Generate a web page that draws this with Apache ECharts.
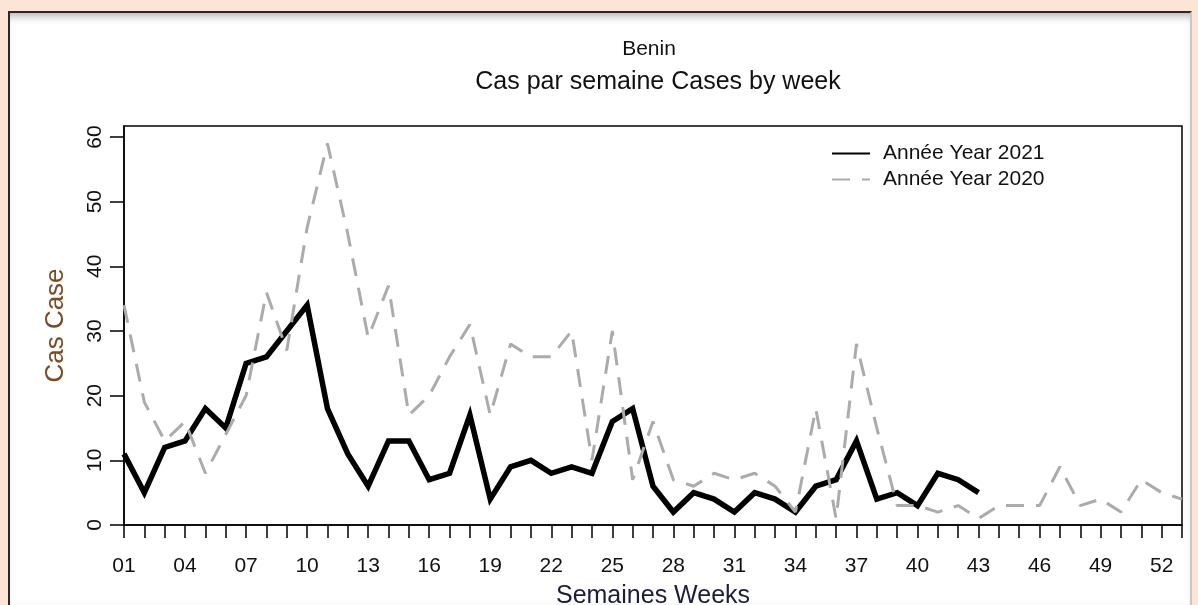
<!DOCTYPE html>
<html><head><meta charset="utf-8">
<script src="https://cdn.jsdelivr.net/npm/echarts@6/dist/echarts.min.js"></script>
<style>
html,body{margin:0;padding:0;background:#fce4d6;overflow:hidden;width:1198px;height:605px}
#frame{position:absolute;left:8px;top:11px;width:1180px;height:600px;background:#fff;
 border-top:2px solid #2a2a2a;border-left:2px solid #2a2a2a;border-right:2px solid #c8c8c8;
 box-shadow: inset 0 9px 8px -6px rgba(0,0,0,0.30), inset 0 -9px 8px -6px rgba(0,0,0,0.22);}
#c{position:absolute;left:0;top:0;width:1198px;height:605px}
</style>
</head><body>
<div id="frame"></div>
<div id="c"></div>
<script>
const weeks = ['01','02','03','04','05','06','07','08','09','10','11','12','13','14','15','16','17','18','19','20',
  '21','22','23','24','25','26','27','28','29','30','31','32','33','34','35','36','37','38','39','40',
  '41','42','43','44','45','46','47','48','49','50','51','52','53'];
const cases2021 = [11,5,12,13,18,15,25,26,30,34,18,11,6,13,13,7,8,17,4,9,10,8,9,8,16,18,6,2,5,4,2,5,4,2,6,7,13,4,5,3,8,7,5];
const cases2020 = [34,19,13,16,8,14,20,36,27,46,59,45,29,37,17,20,26,31,17,28,26,26,30,10,30,7,16,7,6,8,7,8,6,2,18,1,28,15,3,3,2,3,1,3,3,3,9,3,4,2,7,5,4];
const yTicks = [0,10,20,30,40,50,60];
const seriesNames = ['Année Year 2021','Année Year 2020'];
const titleText = 'Benin';
const subtitleText = 'Cas par semaine Cases by week';
const xName = 'Semaines Weeks';
const yName = 'Cas Case';

const FONT = 'Liberation Sans, Arial, sans-serif';
const chart = echarts.init(document.getElementById('c'), null, {renderer:'canvas'});
chart.setOption({
  backgroundColor: 'transparent',
  animation: false,
  title: [
    {text: titleText, left: 644, top: 34, textAlign: 'center',
     textStyle: {fontFamily: FONT, fontSize: 21, fontWeight: 'normal', color: '#111'}},
    {text: subtitleText, left: 653, top: 65, textAlign: 'center',
     textStyle: {fontFamily: FONT, fontSize: 25, fontWeight: 'normal', color: '#111'}}
  ],
  legend: {
    orient: 'vertical', left: 826, top: 138, itemWidth: 38, itemHeight: 14, itemGap: 5,
    itemStyle: {opacity: 0},
    textStyle: {fontFamily: FONT, fontSize: 21, lineHeight: 21, color: '#111', padding: [0,0,0,8]},
    data: seriesNames
  },
  grid: {left: 124, right: 16, top: 126, bottom: 80, show: true, borderColor: '#000', borderWidth: 1.5,
    backgroundColor: 'transparent', outerBoundsMode: 'none', containLabel: false},
  xAxis: {
    type: 'category', data: weeks, boundaryGap: false,
    name: xName, nameLocation: 'middle', nameGap: 59,
    nameTextStyle: {fontFamily: FONT, fontSize: 25, color: '#1c1c3c'},
    axisLine: {lineStyle: {color: '#000', width: 1.5}},
    axisTick: {show: true, inside: false, length: 13, interval: 0, lineStyle: {color: '#000', width: 1.5}},
    axisLabel: {interval: 2, margin: 31, fontFamily: FONT, fontSize: 21, color: '#111'},
    splitLine: {show: false}
  },
  yAxis: {
    type: 'value', min: 0, max: 61.7,
    name: yName, nameLocation: 'middle', nameGap: 55, nameRotate: 90,
    nameTextStyle: {fontFamily: FONT, fontSize: 26, color: '#7a4a22'},
    axisLine: {show: true, lineStyle: {color: '#000', width: 1.5}},
    axisTick: {show: true, length: 14, customValues: yTicks, lineStyle: {color: '#000', width: 1.5}},
    axisLabel: {customValues: yTicks, rotate: 90, margin: 18, fontFamily: FONT, fontSize: 21, color: '#111'},
    splitLine: {show: false}
  },
  series: [
    {name: seriesNames[0], type: 'line', data: cases2021, symbol: 'none',
     lineStyle: {color: '#000', width: 5.5, join: 'miter'}, itemStyle: {color: '#000'}},
    {name: seriesNames[1], type: 'line', data: cases2020, symbol: 'none',
     lineStyle: {color: '#ababab', width: 3, type: [18, 12]}, itemStyle: {color: '#ababab'}}
  ]
});
</script>
</body></html>
